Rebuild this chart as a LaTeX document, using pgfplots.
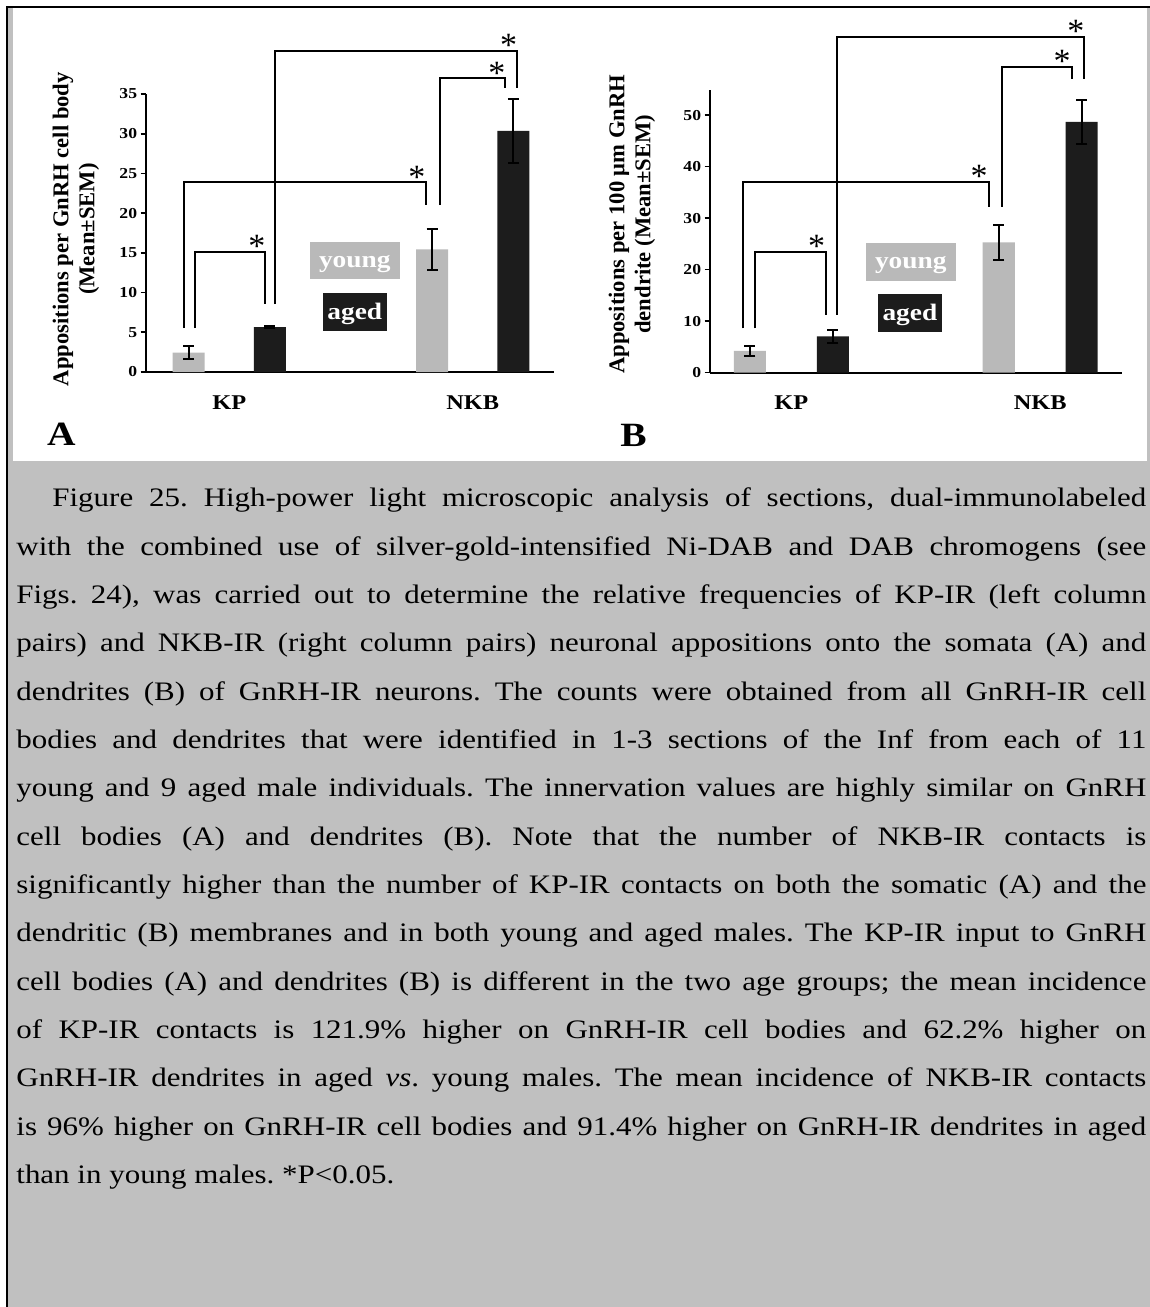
\documentclass[border=0pt]{standalone}
\usepackage{pgfplots}
\pgfplotsset{compat=1.18}
\usepackage{fontspec}
\setmainfont{Liberation Serif}[FakeStretch=1.16]
\newfontfamily\plainserif{Liberation Serif}
\definecolor{capgray}{RGB}{192,192,192}
\definecolor{youngc}{RGB}{185,185,185}
\definecolor{agedc}{RGB}{28,28,28}
\pgfplotsset{
 panel/.style={
  scale only axis, clip=false,
  axis x line*=bottom, axis y line*=left,
  axis line style={line width=1pt,-},
  ymin=0, xtick={0.5,3.5}, xticklabels={KP,NKB},
  x tick style={draw=none},
  y tick style={line width=0.8pt, black},
  tick align=outside, major tick length=2.5pt,
  /pgf/number format/assume math mode=true,
  yticklabel style={font=\bfseries\fontsize{7.6}{8}\selectfont, inner sep=1.5pt},
  xticklabel style={font=\bfseries\fontsize{10.5}{11}\selectfont, anchor=base, yshift=-16pt},
  ylabel style={font=\plainserif\bfseries\fontsize{11.3}{13}\selectfont, align=center, anchor=center},
 },
 bars/.style={ybar, bar width=16pt, bar shift=0pt, draw=none, fill=#1,
   error bars/.cd, y dir=both, y explicit,
   error bar style={line width=1pt, draw=black},
   error mark options={line width=1pt, draw=black, mark size=2.8pt, rotate=90}},
 brk/.style={line width=1pt, black, mark=none},
}
\tikzset{ast/.style={font=\plainserif\fontsize{17}{17}\selectfont, inner sep=0pt, yshift=-2.2pt}}
\begin{document}
\begin{tikzpicture}
\path[use as bounding box, fill=white] (0,0) rectangle (575pt,-653.5pt);
\fill[capgray] (4.2pt,-4pt) rectangle (575pt,-653.5pt);
\fill[white] (6.5pt,-4pt) rectangle (573.5pt,-230.5pt);
\draw[line width=1.2pt] (3.6pt,-653.5pt) -- (3.6pt,-3.6pt) -- (575pt,-3.6pt);

% Panel A
\begin{axis}[panel, at={(72.75pt,-186pt)}, anchor=south west,
  width=204.25pt, height=139pt, xmin=-0.531, xmax=4.5, ymax=35, ytick={0,5,...,35},
  ylabel={Appositions per GnRH cell body\\(Mean±SEM)},
  ylabel style={at={(axis description cs:-0.170,0.514)}}]
\addplot[bars=youngc] coordinates {(0,2.45) +- (0,0.82) (3,15.45) +- (0,2.55)};
\addplot[bars=agedc] coordinates {(1,5.64) +- (0,0.12) (4,30.35) +- (0,4.05)};
\addplot[brk] coordinates {(0.079,5.54) (0.079,15.15) (0.94,15.15) (0.94,8.56)};
\addplot[brk] coordinates {(-0.058,5.54) (-0.058,23.96) (2.92,23.96) (2.92,21.0)};
\addplot[brk] coordinates {(1.058,8.56) (1.058,40.41) (4.04,40.41) (4.04,35.72)};
\addplot[brk] coordinates {(3.09,21.02) (3.09,37.05) (3.897,37.05) (3.897,35.72)};
\node[ast] at (axis cs:0.84,16.4) {*};
\node[ast] at (axis cs:2.81,25.05) {*};
\node[ast] at (axis cs:3.94,41.7) {*};
\node[ast] at (axis cs:3.797,38.15) {*};
\end{axis}

% Panel B
\begin{axis}[panel, at={(354.75pt,-186.25pt)}, anchor=south west,
  width=206.45pt, height=141.5pt, xmin=-0.485, xmax=4.49, ymax=55, ytick={0,10,...,50},
  ylabel={Appositions per 100 μm GnRH\\dendrite (Mean±SEM)},
  ylabel style={at={(axis description cs:-0.1877,0.524)}}]
\addplot[bars=youngc] coordinates {(0,4.2) +- (0,1.0) (3,25.3) +- (0,3.4)};
\addplot[bars=agedc] coordinates {(1,7.0) +- (0,1.25) (4,48.7) +- (0,4.3)};
\addplot[brk] coordinates {(0.06,8.59) (0.06,23.48) (0.92,23.48) (0.92,11.18)};
\addplot[brk] coordinates {(-0.083,8.59) (-0.083,37.09) (2.882,37.09) (2.882,32.23)};
\addplot[brk] coordinates {(1.054,11.18) (1.054,65.28) (4.028,65.28) (4.028,57.06)};
\addplot[brk] coordinates {(3.045,32.23) (3.045,59.45) (3.888,59.45) (3.888,57.06)};
\node[ast] at (axis cs:0.807,25.43) {*};
\node[ast] at (axis cs:2.765,39.04) {*};
\node[ast] at (axis cs:3.928,67.22) {*};
\node[ast] at (axis cs:3.763,61.39) {*};
\end{axis}

% legend boxes
\tikzset{lbl/.style={text=white, font=\bfseries\fontsize{11.8}{12}\selectfont, anchor=base, inner sep=0pt}}
\fill[youngc] (155pt,-120.85pt) rectangle (199.8pt,-139.65pt);
\node[lbl] at (177.4pt,-133.5pt) {young};
\fill[agedc] (161.5pt,-146.35pt) rectangle (193.3pt,-165.5pt);
\node[lbl] at (177.4pt,-159.65pt) {aged};
\fill[youngc] (433pt,-121.35pt) rectangle (477.75pt,-140.5pt);
\node[lbl] at (455.4pt,-134.2pt) {young};
\fill[agedc] (439pt,-147pt) rectangle (470.9pt,-166.15pt);
\node[lbl] at (454.95pt,-160.3pt) {aged};

% panel letters
\node[anchor=base west, inner sep=0pt, font=\bfseries\fontsize{17}{17}\selectfont] at (23.35pt,-222.5pt) {A};
\node[anchor=base west, inner sep=0pt, font=\bfseries\fontsize{17}{17}\selectfont] at (310pt,-223pt) {B};

% caption
\node[anchor=base west, inner sep=0pt] at (8pt,-253.35pt) {\parbox[t]{565pt}{\fontsize{13.35}{24.17}\selectfont
\frenchspacing\tolerance=10000 \hyphenpenalty=10000 \exhyphenpenalty=10000 \emergencystretch=20pt
\noindent\hspace*{18pt}Figure 25. High-power light microscopic analysis of sections, dual-immunolabeled\linebreak
with the combined use of silver-gold-intensified Ni-DAB and DAB chromogens (see\linebreak
Figs. 24), was carried out to determine the relative frequencies of KP-IR (left column\linebreak
pairs) and NKB-IR (right column pairs) neuronal appositions onto the somata (A) and\linebreak
dendrites (B) of GnRH-IR neurons. The counts were obtained from all GnRH-IR cell\linebreak
bodies and dendrites that were identified in 1-3 sections of the Inf from each of 11\linebreak
young and 9 aged male individuals. The innervation values are highly similar on GnRH\linebreak
cell bodies (A) and dendrites (B). Note that the number of NKB-IR contacts is\linebreak
significantly higher than the number of KP-IR contacts on both the somatic (A) and the\linebreak
dendritic (B) membranes and in both young and aged males. The KP-IR input to GnRH\linebreak
cell bodies (A) and dendrites (B) is different in the two age groups; the mean incidence\linebreak
of KP-IR contacts is 121.9\% higher on GnRH-IR cell bodies and 62.2\% higher on\linebreak
GnRH-IR dendrites in aged \textit{vs}. young males. The mean incidence of NKB-IR contacts\linebreak
is 96\% higher on GnRH-IR cell bodies and 91.4\% higher on GnRH-IR dendrites in aged\linebreak
than in young males. *P<0.05.}};
\end{tikzpicture}
\end{document}
